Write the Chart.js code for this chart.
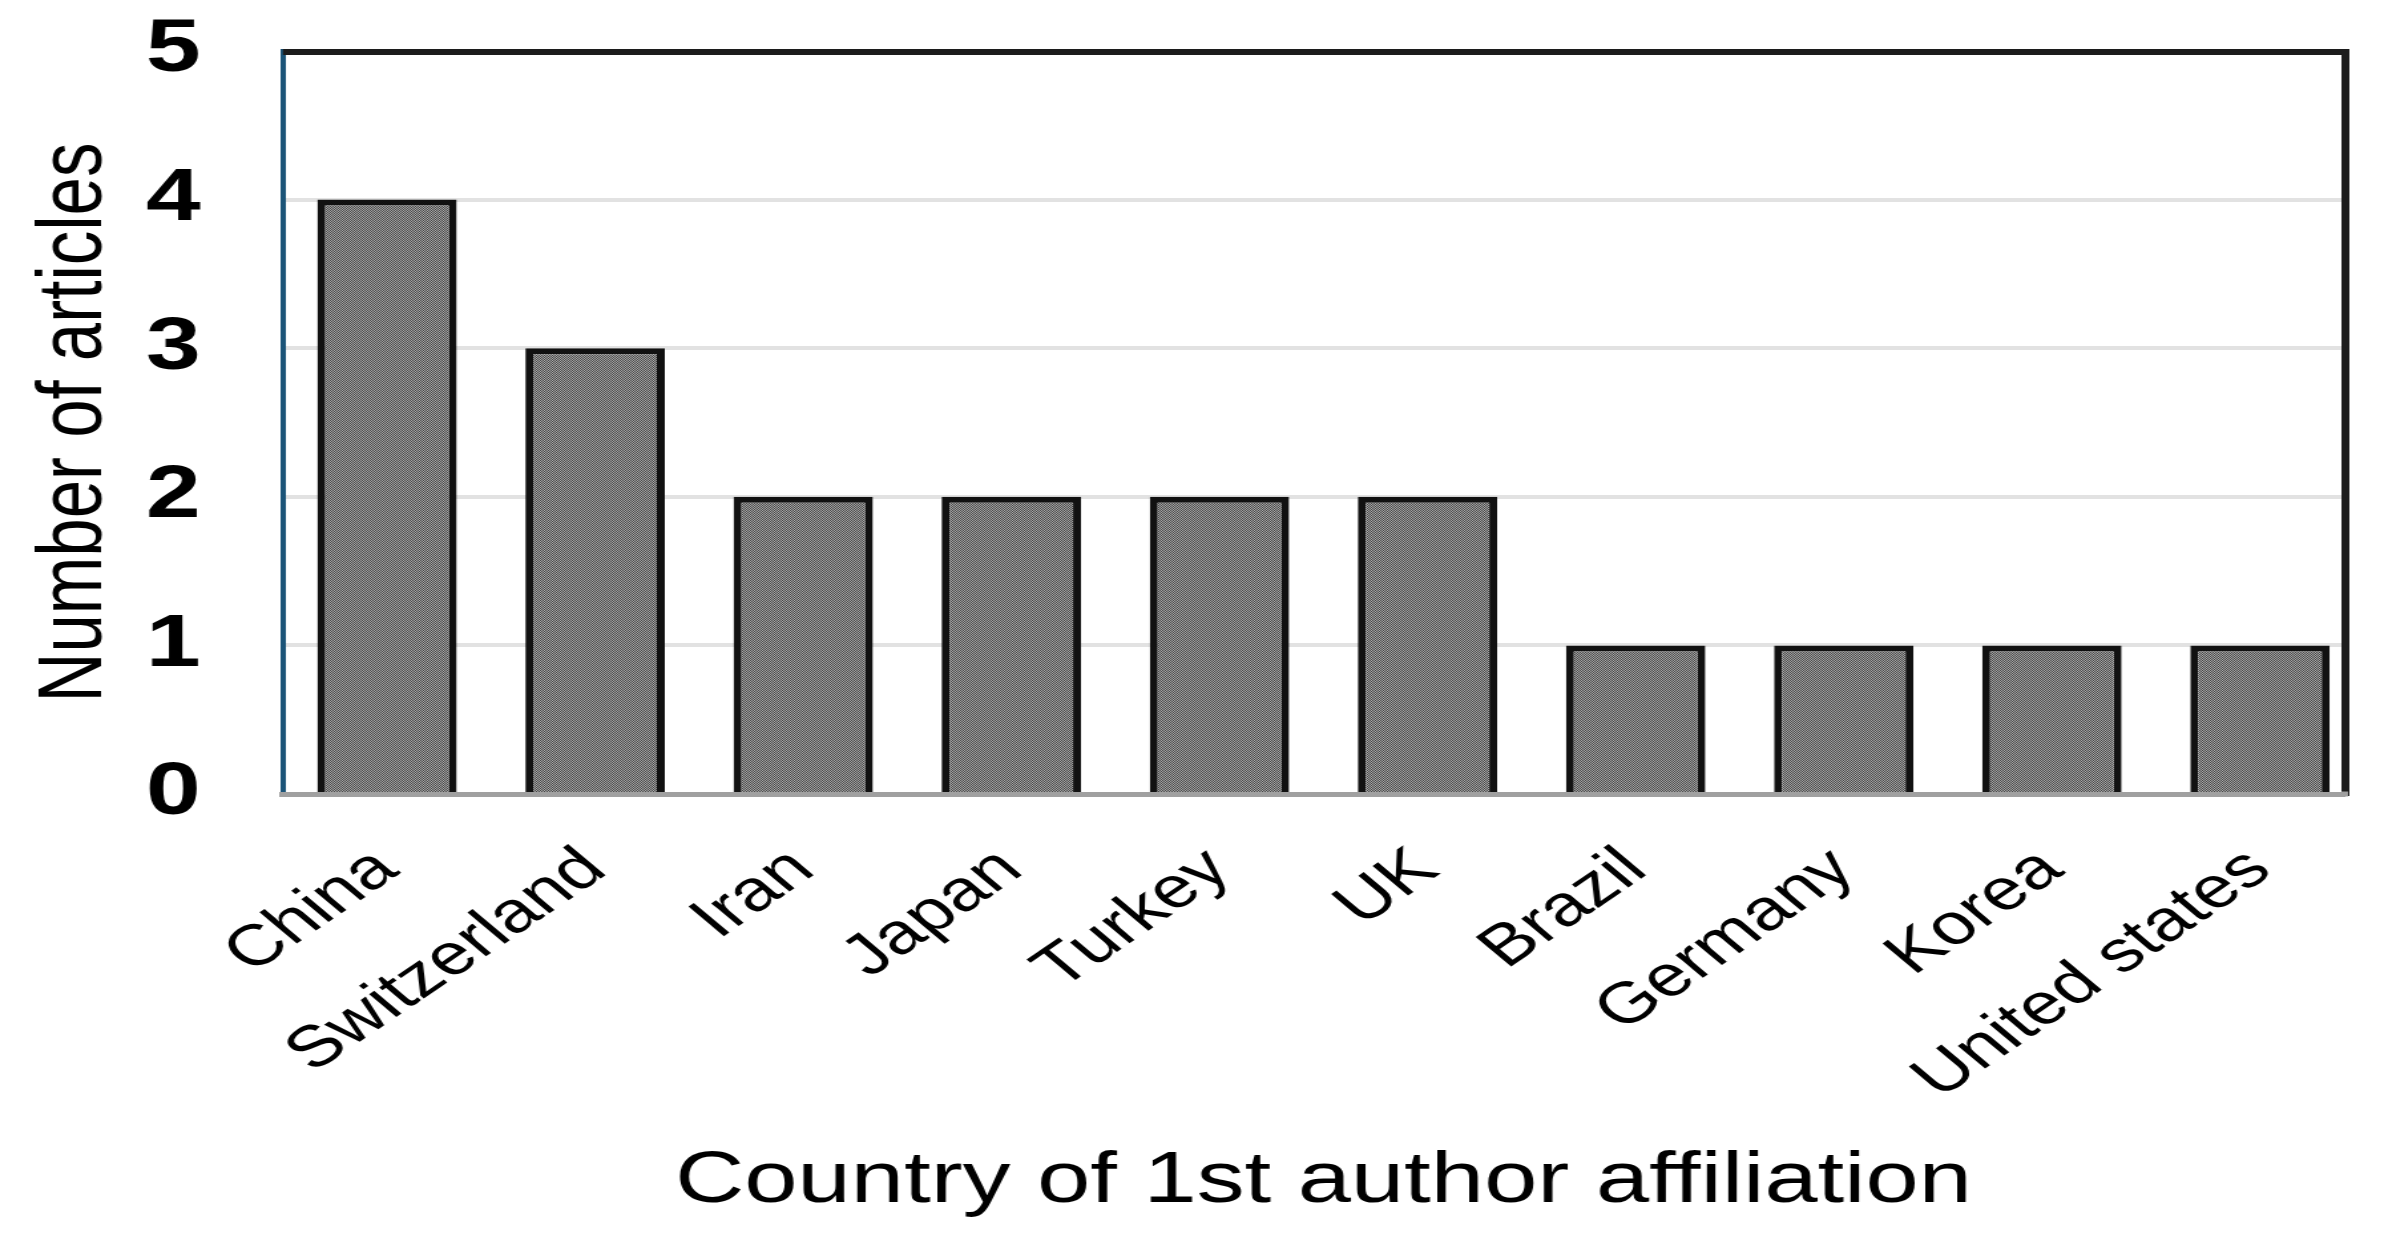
<!DOCTYPE html>
<html>
<head>
<meta charset="utf-8">
<script src="https://cdn.jsdelivr.net/npm/chart.js@4.4.1/dist/chart.umd.min.js"></script>
<style>
    html, body { margin: 0; padding: 0; background: #fff; overflow: hidden; }
    /* the figure is wider than its type: draw narrow, stretch sideways */
    #wrap { width: 1805px; height: 1235px; transform: scaleX(1.3296); transform-origin: 0 0; }
</style>
</head>
<body>
<div id="wrap"><canvas id="chart" width="1805" height="1235"></canvas></div>
<script>
/* Articles per country of 1st author affiliation */
const countries = ['China', 'Switzerland', 'Iran', 'Japan', 'Turkey', 'UK', 'Brazil', 'Germany', 'Korea', 'United states'];
const articles = [4, 3, 2, 2, 2, 2, 1, 1, 1, 1];
const yTicks = [0, 1, 2, 3, 4, 5];

const FONT = "'Liberation Sans', Arial, Helvetica, sans-serif";

/* Small checker pattern used as the bar fill */
function makeDots() {
    const c = document.createElement('canvas');
    c.width = 2;
    c.height = 2;
    const g = c.getContext('2d');
    g.fillStyle = '#a8a8a8';
    g.fillRect(0, 0, 2, 2);
    g.fillStyle = '#474747';
    g.fillRect(0, 0, 1, 1);
    g.fillRect(1, 1, 1, 1);
    return g.createPattern(c, 'repeat');
}

/* Black top and right edge of the plot box; the right edge sits a bit
   inside the last category, as in the source figure */
const framePlugin = {
    id: 'frame',
    afterDraw(chart) {
        const { ctx, chartArea: a } = chart;
        const rx = a.right - 14;
        ctx.save();
        ctx.fillStyle = '#fff';
        ctx.fillRect(rx, a.top - 8, a.right - rx + 10, a.bottom - a.top + 14);
        ctx.strokeStyle = '#1c1c1c';
        ctx.lineWidth = 6;
        ctx.beginPath();
        ctx.moveTo(a.left, a.top + 1);
        ctx.lineTo(rx, a.top + 1);
        ctx.lineTo(rx, a.bottom + 2);
        ctx.stroke();
        ctx.strokeStyle = '#a0a0a0';
        ctx.lineWidth = 5;
        ctx.beginPath();
        ctx.moveTo(rx - 3, a.bottom);
        ctx.lineTo(rx + 2, a.bottom);
        ctx.stroke();
        ctx.restore();
    }
};

function init() {
    const ctx = document.getElementById('chart').getContext('2d');
    new Chart(ctx, {
        type: 'bar',
        data: {
            labels: countries,
            datasets: [{
                data: articles,
                backgroundColor: makeDots(),
                borderColor: '#111111',
                borderWidth: 6,
                barPercentage: 0.67,
                categoryPercentage: 1
            }]
        },
        options: {
            responsive: false,
            animation: false,
            devicePixelRatio: 1,
            layout: { padding: { left: 10, right: 27, top: 51, bottom: 0 } },
            plugins: { legend: { display: false }, tooltip: { enabled: false } },
            scales: {
                x: {
                    grid: { display: false, drawTicks: false },
                    border: { display: true, color: '#a0a0a0', width: 5, z: 1 },
                    ticks: {
                        color: '#000',
                        font: { family: FONT, size: 58 },
                        minRotation: 42,
                        maxRotation: 42,
                        padding: 41,
                        autoSkip: false
                    },
                    title: {
                        display: true,
                        text: 'Country of 1st author affiliation',
                        color: '#000',
                        font: { family: FONT, size: 72 },
                        padding: { top: 0, bottom: 10 }
                    },
                    afterFit(scale) { scale.height = 441; }
                },
                y: {
                    min: yTicks[0],
                    max: yTicks[yTicks.length - 1],
                    grid: { color: '#e2e2e2', lineWidth: 4, drawTicks: false },
                    border: { color: '#1b5478', width: 4 },
                    ticks: {
                        stepSize: 1,
                        color: '#000',
                        padding: 62,
                        font: { family: FONT, size: 74, weight: 'bold' }
                    },
                    title: {
                        display: true,
                        text: 'Number of articles',
                        color: '#000',
                        font: { family: FONT, size: 69 },
                        padding: { top: 6, bottom: 0 }
                    },
                    afterFit(scale) {
                        scale.width = 202.8;
                        scale.paddingTop = 0;
                        scale.paddingBottom = 0;
                    }
                }
            }
        },
        plugins: [framePlugin]
    });
}

window.addEventListener('load', init);
</script>
</body>
</html>
